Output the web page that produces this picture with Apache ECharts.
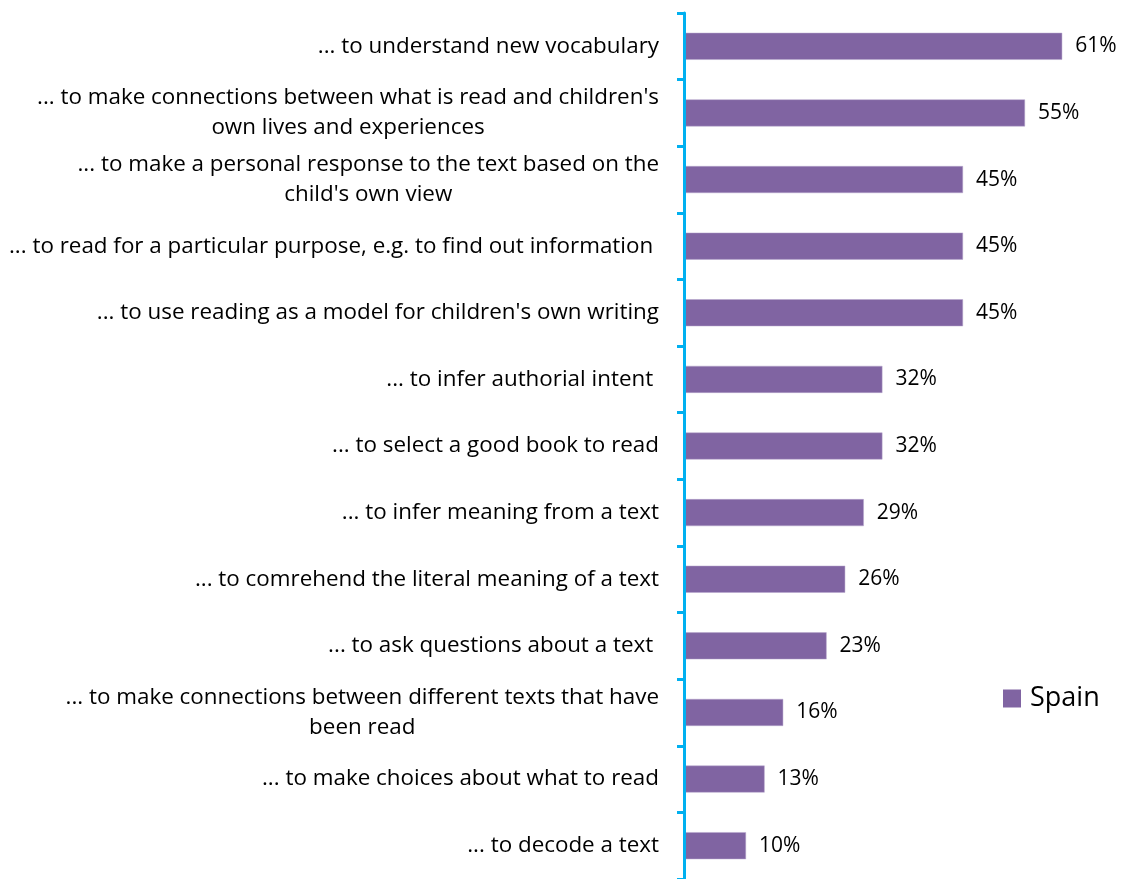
<!DOCTYPE html>
<html>
<head lang="en">
<meta charset="UTF-8">
<title>Spain</title>
<script src="https://cdn.jsdelivr.net/npm/echarts@6/dist/echarts.min.js"></script>
<style>
  html, body { margin: 0; padding: 0; background: #fff; }
</style>
</head>
<body>
<div id="main" style="width:1124px;height:879px;"></div>
<script type="text/javascript">
// categories, top to bottom
var categories = [
  "... to understand new vocabulary",
  "... to make connections between what is read and children's\nown lives and experiences",
  "... to make a personal response to the text based on the\nchild's own view",
  "... to read for a particular purpose, e.g. to find out information ",
  "... to use reading as a model for children's own writing",
  "... to infer authorial intent ",
  "... to select a good book to read",
  "... to infer meaning from a text",
  "... to comrehend the literal meaning of a text",
  "... to ask questions about a text ",
  "... to make connections between different texts that have\nbeen read",
  "... to make choices about what to read",
  "... to decode a text"
];
// percent values for Spain
var spain = [61, 55, 45, 45, 45, 32, 32, 29, 26, 23, 16, 13, 10];
var seriesName = "Spain";

var myChart = echarts.init(document.getElementById('main'));

myChart.setOption({
  backgroundColor: '#ffffff',
  animation: false,
  textStyle: { fontFamily: 'Open Sans', color: '#000' },
  legend: {
    data: [seriesName],
    left: 998,
    top: 680,
    icon: 'rect',
    itemWidth: 18,
    itemHeight: 18,
    itemGap: 10,
    itemStyle: { borderWidth: 0 },
    textStyle: { fontSize: 27, color: '#000', fontFamily: 'Open Sans', padding: [0, 0, 0, 4] }
  },
  grid: {
    left: 684,
    top: 13,
    width: 434,
    height: 867,
    containLabel: false
  },
  xAxis: {
    type: 'value',
    min: 0,
    max: 70,
    show: false,
    splitLine: { show: false }
  },
  yAxis: {
    type: 'category',
    inverse: true,
    data: categories,
    z: 5,
    axisLine: { lineStyle: { color: '#00B0F0', width: 3 } },
    axisTick: { show: true, length: 7, lineStyle: { color: '#00B0F0', width: 3 } },
    axisLabel: {
      margin: 25,
      color: '#000',
      fontSize: 22.4,
      fontFamily: 'Open Sans',
      lineHeight: 30,
      formatter: function (v) {
        return v.split('\n').map(function (s) { return '{c|' + s + '}'; }).join('\n');
      },
      rich: {
        c: { align: 'center', fontSize: 22.4, lineHeight: 30, color: '#000', fontFamily: 'Open Sans' }
      }
    }
  },
  series: [
    {
      name: seriesName,
      type: 'bar',
      data: spain,
      barWidth: 27,
      itemStyle: { color: '#8064A2', borderColor: '#B7A6CC', borderWidth: 0.5 },
      label: {
        show: true,
        position: 'right',
        distance: 13,
        formatter: '{c}%',
        color: '#000',
        fontSize: 21,
        fontFamily: 'Open Sans'
      }
    }
  ]
});
</script>
</body>
</html>
